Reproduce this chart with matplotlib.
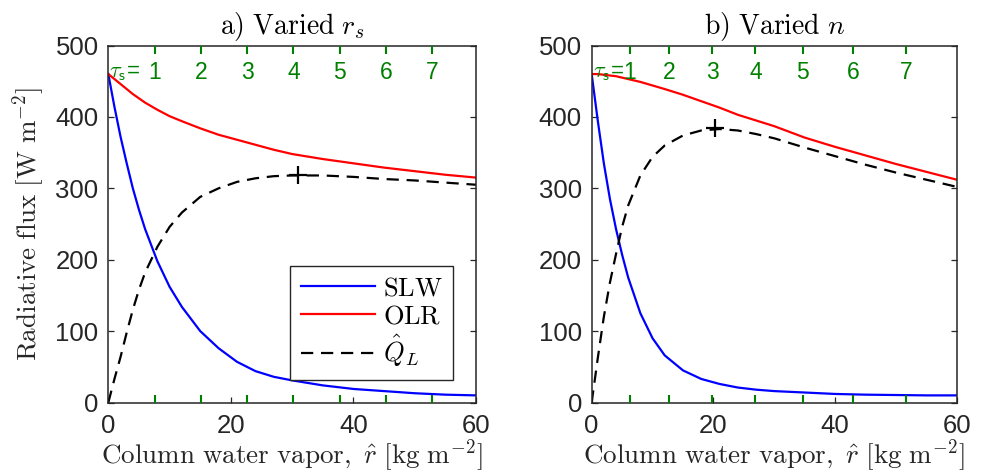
import matplotlib
matplotlib.use('Agg')
import matplotlib.pyplot as plt
import matplotlib.transforms as mtransforms

plt.rcParams['font.family'] = ['Liberation Sans', 'DejaVu Sans']
plt.rcParams['mathtext.fontset'] = 'cm'

# column water vapor grid [kg m^-2]
r = [0, 1, 2, 3, 4, 5, 6, 8, 10, 12, 15, 18, 21, 24, 27, 30, 35, 40, 45, 50, 55, 60]

# a) varied r_s
slw_a = [460, 414, 372, 335, 300, 270, 243, 198, 162, 134, 100, 76, 57, 44, 36, 31, 24, 19, 16, 13, 11, 10]
olr_a = [460, 453, 446, 439, 432, 426, 420, 410, 401, 394, 384, 375, 368, 361, 354, 348, 341, 335, 329, 324, 319, 315]
q_a = [0, 33, 64, 98, 130, 158, 182, 218, 246, 266, 288, 300, 309, 314, 317, 318, 318, 316, 313, 311, 308, 305]
peak_a = (31, 318)

# b) varied n
slw_b = [460, 395, 335, 285, 243, 207, 175, 125, 90, 66, 45, 33, 26, 21, 18, 16, 14, 12, 11, 10.5, 10, 10]
olr_b = [460, 460, 459, 458, 457, 455, 453, 449, 444, 439, 431, 422, 413, 403, 395, 387, 371, 358, 346, 334, 323, 312]
q_b = [0, 62, 120, 168, 208, 246, 276, 318, 344, 360, 374, 381, 383, 381, 376, 370, 357, 345, 333, 322, 312, 302]
peak_b = (20.3, 384)

# tau_s marks (positions in r)
tau_labels = [1, 2, 3, 4, 5, 6, 7]
tau_pos_a = [7.55, 15.1, 22.65, 30.2, 37.75, 45.3, 52.85]
tau_pos_b = [6.3, 12.75, 19.8, 26.9, 34.7, 42.95, 51.65]

xticks = [0, 20, 40, 60]
yticks = [0, 100, 200, 300, 400, 500]

dark = (0.15, 0.15, 0.15)
green = (0, 0.5, 0)

fig = plt.figure(figsize=(9.83, 4.74), dpi=100)
ax_a = fig.add_axes([0.1102, 0.1508, 0.3740, 0.7532])
ax_b = fig.add_axes([0.6019, 0.1508, 0.3716, 0.7532])


def draw_panel(ax, slw, olr, q, peak, tau_pos, title):
    l1, = ax.plot(r, slw, color='blue', lw=1.6)
    l2, = ax.plot(r, olr, color='red', lw=1.6)
    l3, = ax.plot(r, q, color='black', lw=1.6, ls=(0, (5.5, 3.5)))
    ax.plot(*peak, marker='+', color='black', ms=13, mew=1.6)

    ax.set_xlim(0, 60)
    ax.set_ylim(0, 500)
    ax.set_xticks(xticks)
    ax.set_yticks(yticks)
    ax.tick_params(direction='in', length=4, width=0.9, colors=dark,
                   labelsize=18.5, top=True, right=True, pad=7)
    ax.tick_params(axis='x', pad=8)
    for s in ax.spines.values():
        s.set_color(dark)
        s.set_linewidth(1.1)
    ax.set_xlabel(r'$\mathrm{Column\ water\ vapor,}\ \hat{r}\ [\mathrm{kg\ m}^{-2}]$',
                  fontsize=19.5, color=dark, labelpad=0)
    ax.set_title(title, fontsize=20, color='black', pad=8)

    # tau_s ticks on top and bottom
    tw = ax.twiny()
    tw.set_xlim(0, 60)
    tw.set_xticks(tau_pos)
    tw.tick_params(axis='x', direction='in', length=6, width=1.5, color=green,
                   top=True, bottom=True, labeltop=False, labelbottom=False)
    for s in tw.spines.values():
        s.set_visible(False)
    trans = mtransforms.blended_transform_factory(ax.transData, ax.transAxes)
    for p, lab in zip(tau_pos, tau_labels):
        ax.text(p, 0.925, str(lab), transform=trans, ha='center', va='center',
                fontsize=16.5, color=green)
    ax.text(0.003, 0.925, r'$\tau_\mathsf{s}$=', transform=ax.transAxes,
            ha='left', va='center', fontsize=16, color=green)
    return l1, l2, l3


h = draw_panel(ax_a, slw_a, olr_a, q_a, peak_a, tau_pos_a, r'$\mathrm{a)\ Varied}\ r_s$')
draw_panel(ax_b, slw_b, olr_b, q_b, peak_b, tau_pos_b, r'$\mathrm{b)\ Varied}\ n$')

ax_a.set_ylabel(r'$\mathrm{Radiative\ flux\ [W\ m}^{-2}]$', fontsize=19.5, color=dark, labelpad=6)

leg = ax_a.legend(h, [r'$\mathrm{SLW}$', r'$\mathrm{OLR}$', r'$\hat{Q}_L$'],
                  loc='lower right', bbox_to_anchor=(0.9375, 0.064), borderaxespad=0,
                  fontsize=19, fancybox=False, framealpha=1, edgecolor=dark,
                  handlelength=2.8, labelspacing=0.15, borderpad=0.4, handletextpad=0.3)
leg.get_frame().set_linewidth(1.0)

fig.savefig('out.png', dpi=100)
